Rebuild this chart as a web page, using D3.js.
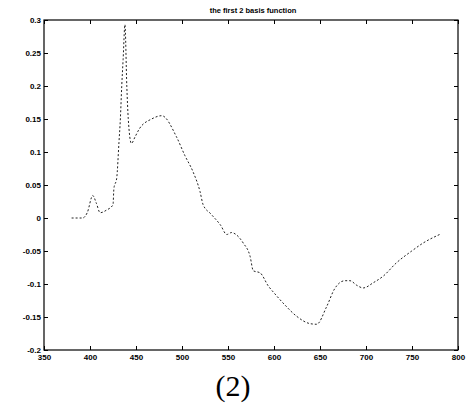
<!DOCTYPE html>
<html>
<head>
<meta charset="utf-8">
<script src="https://cdn.jsdelivr.net/npm/d3@7"></script>
<style>
  html, body { margin: 0; padding: 0; background: #fff; }
  svg { display: block; }
  .tick text { font-family: "Liberation Sans", Arial, sans-serif; font-weight: bold; font-size: 8px; fill: #000; }
</style>
</head>
<body>
<div id="chart"></div>
<script>
// Data (wavelength nm, basis value)
const wavelength = [380, 392, 397, 403, 407, 411, 418, 425, 426, 429, 431.5, 433, 434.5, 436, 438,
  440, 441.6, 445, 449, 453.6, 467, 478, 494, 503, 512, 519.6, 523, 531.5, 542, 548.6, 554, 557.6,
  566.6, 574, 577.5, 584.8, 593.8, 601, 612, 624.7, 639, 646.4, 657, 666, 677, 682.6, 690, 697, 708,
  718.8, 733, 749.7, 762, 780];
const basis2 = [0, 0, 0.008, 0.034, 0.022, 0.008, 0.012, 0.02, 0.045, 0.06, 0.115, 0.15, 0.2, 0.24, 0.293,
  0.2, 0.15, 0.113, 0.123, 0.135, 0.15, 0.155, 0.123, 0.095, 0.07, 0.04, 0.02, 0.006, -0.011, -0.025, -0.022, -0.024,
  -0.038, -0.058, -0.08, -0.083, -0.103, -0.115, -0.132, -0.149, -0.16, -0.161, -0.135, -0.107, -0.095, -0.095, -0.102, -0.106, -0.098,
  -0.088, -0.068, -0.05, -0.038, -0.025];
const xTicks = [350, 400, 450, 500, 550, 600, 650, 700, 750, 800];
const yTicks = [-0.2, -0.15, -0.1, -0.05, 0, 0.05, 0.1, 0.15, 0.2, 0.25, 0.3];
const titleText = "the first 2 basis function";
const captionText = "(2)";

const W = 467, H = 404;
const margin = { left: 44, right: 9, top: 20, bottom: 54 };
const svg = d3.select("#chart").append("svg").attr("width", W).attr("height", H);

const x = d3.scaleLinear().domain([350, 800]).range([margin.left, W - margin.right]);
const y = d3.scaleLinear().domain([-0.2, 0.3]).range([H - margin.bottom, margin.top]);

const fmtY = d => d === 0 ? "0" : String(d);

// frame
svg.append("rect")
  .attr("x", x(350)).attr("y", y(0.3))
  .attr("width", x(800) - x(350)).attr("height", y(-0.2) - y(0.3))
  .attr("fill", "none").attr("stroke", "#000").attr("stroke-width", 1.2);

// axes (ticks inward)
const bottomAxis = d3.axisBottom(x).tickValues(xTicks).tickSize(-4).tickPadding(4).tickFormat(d3.format("d"));
const gx = svg.append("g").attr("transform", `translate(0,${y(-0.2)})`).call(bottomAxis);
gx.select(".domain").remove();

const topAxis = d3.axisTop(x).tickValues(xTicks).tickSize(-4).tickFormat("");
const gt = svg.append("g").attr("transform", `translate(0,${y(0.3)})`).call(topAxis);
gt.select(".domain").remove();

const leftAxis = d3.axisLeft(y).tickValues(yTicks).tickSize(-4).tickPadding(3).tickFormat(fmtY);
const gy = svg.append("g").attr("transform", `translate(${x(350)},0)`).call(leftAxis);
gy.select(".domain").remove();

const rightAxis = d3.axisRight(y).tickValues(yTicks).tickSize(-4).tickFormat("");
const gr = svg.append("g").attr("transform", `translate(${x(800)},0)`).call(rightAxis);
gr.select(".domain").remove();

svg.selectAll(".tick line").attr("stroke", "#000").attr("stroke-width", 1);

// curve
const line = d3.line().x((d, i) => x(wavelength[i])).y(d => y(d)).curve(d3.curveMonotoneX);
svg.append("path")
  .datum(basis2)
  .attr("d", line)
  .attr("fill", "none")
  .attr("stroke", "#222")
  .attr("stroke-width", 1)
  .attr("stroke-dasharray", "2,2");

// title
svg.append("text")
  .attr("x", 253).attr("y", 13)
  .attr("text-anchor", "middle")
  .attr("font-family", "Liberation Sans, Arial, sans-serif")
  .attr("font-weight", "bold")
  .attr("font-size", 7.5)
  .text(titleText);

// caption
svg.append("text")
  .attr("x", 233).attr("y", 396)
  .attr("text-anchor", "middle")
  .attr("font-family", "Liberation Serif, Times New Roman, serif")
  .attr("font-size", 30)
  .text(captionText);
</script>
</body>
</html>
